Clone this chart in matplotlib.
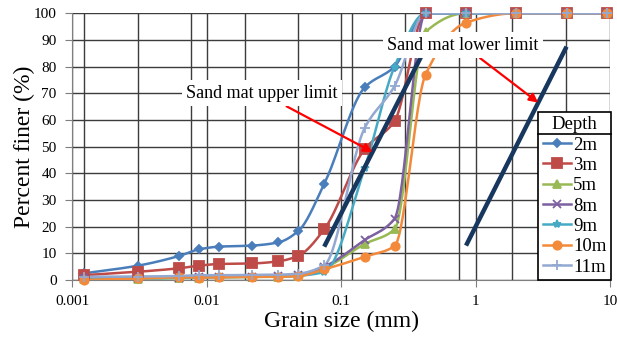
import numpy as np
import matplotlib
matplotlib.use("Agg")
import matplotlib.pyplot as plt
from matplotlib.lines import Line2D
from matplotlib.ticker import MultipleLocator, FixedLocator

plt.rcParams['font.family'] = ['Liberation Serif', 'DejaVu Serif']

# grain sizes (mm): hydrometer readings then sieves
sizes = [0.00123, 0.00311, 0.00625, 0.0088, 0.0124, 0.0217, 0.0342, 0.0482,
         0.075, 0.15, 0.25, 0.425, 0.85, 2.0, 4.75, 9.5]

d2m = [2.5, 5.4, 9.0, 11.5, 12.5, 12.9, 14.1, 18.4, 36.0, 72.2, 80.0, 100, 100, 100, 100, 100]
d3m = [1.8, 3.1, 4.4, 5.4, 6.0, 6.2, 7.0, 9.1, 19.0, 49.1, 59.6, 100, 100, 100, 100, 100]
d5m = [0.4, 0.5, 0.7, 0.9, 1.0, 1.1, 1.2, 1.5, 4.5, 13.5, 19.0, 93.0, 100, 100, 100, 100]
d8m = [0.6, 0.7, 0.9, 1.1, 1.2, 1.3, 1.4, 1.8, 5.0, 15.0, 23.0, 100, 100, 100, 100, 100]
d9m = [0.5, 0.6, 0.8, 1.0, 1.1, 1.2, 1.3, 1.6, 3.0, 42.0, 80.0, 100, 100, 100, 100, 100]
d10m = [0.0, 0.6, 1.0, 0.9, 1.0, 1.2, 1.2, 1.5, 4.0, 8.7, 12.7, 77.0, 96.5, 100, 100, 100]
d11m = [1.2, 1.3, 1.5, 1.8, 1.8, 1.9, 2.0, 2.4, 5.5, 57.0, 72.7, 100, 100, 100, 100, 100]

labels = ['2m', '3m', '5m', '8m', '9m', '10m', '11m']
series = [d2m, d3m, d5m, d8m, d9m, d10m, d11m]
colors = ['#4a7ebb', '#be4b48', '#98b954', '#7d60a0', '#46aac5', '#f38a3b', '#93a9d1']
markers = ['D', 's', '^', 'x', '*', 'o', '+']
msizes = [4, 6.5, 6, 6, 6, 6, 7]

# sand mat limit lines (size mm, percent finer)
upper_x = [0.075, 0.425]
upper_y = [12.5, 87.0]
lower_x = [0.85, 4.75]
lower_y = [12.9, 87.5]


def smooth(xs, ys, n=30):
    # smoothed line through the points (monotone cubic, in screen-like units)
    u = np.log10(xs) * 134.5
    v = np.array(ys, float) * 2.667
    h = np.diff(u)
    dl = np.diff(v) / h
    m = np.zeros_like(v)
    m[0], m[-1] = dl[0], dl[-1]
    for i in range(1, len(v) - 1):
        if dl[i - 1] * dl[i] > 0:
            w1 = 2 * h[i] + h[i - 1]
            w2 = h[i] + 2 * h[i - 1]
            m[i] = (w1 + w2) / (w1 / dl[i - 1] + w2 / dl[i])
    us, vs = [], []
    for i in range(len(v) - 1):
        t = np.linspace(0, 1, n)
        h00 = 2 * t ** 3 - 3 * t ** 2 + 1
        h10 = t ** 3 - 2 * t ** 2 + t
        h01 = -2 * t ** 3 + 3 * t ** 2
        h11 = t ** 3 - t ** 2
        us.append(u[i] + t * h[i])
        vs.append(h00 * v[i] + h10 * h[i] * m[i] + h01 * v[i + 1] + h11 * h[i] * m[i + 1])
    return 10 ** (np.concatenate(us) / 134.5), np.concatenate(vs) / 2.667


fig = plt.figure(figsize=(6.17, 3.41), dpi=100)
ax = fig.add_axes([0.1167, 0.1789, 0.8720, 0.7821])
ax.set_xscale('log')
ax.set_xlim(0.001, 10)
ax.set_ylim(0, 100)

# grid: light rows, dark major rows/decades, plus the offset overlay columns
ax.yaxis.set_major_locator(MultipleLocator(10))
ax.xaxis.set_major_locator(FixedLocator([0.001, 0.01, 0.1, 1, 10]))
ax.xaxis.set_minor_locator(FixedLocator([]))
ax.yaxis.set_minor_locator(FixedLocator([]))
ax.hlines(np.arange(0, 100, 5 / 3), 0, 1, transform=ax.get_xaxis_transform(),
          color='#d4d4d4', lw=1.0, zorder=0.3)
ax.grid(which='major', axis='both', color='#3c3c3c', lw=1.0)
ax.set_axisbelow(True)
gx = [0.0223 + 0.0995 * k for k in range(10)]
ax.vlines(gx, 0, 100, transform=ax.get_yaxis_transform(), color='#3c3c3c', lw=1.0, zorder=0.6)

for s in ['top', 'right']:
    ax.spines[s].set_visible(False)
for s in ['left', 'bottom']:
    ax.spines[s].set_color('#7f7f7f')
ax.tick_params(which='major', direction='out', length=5, color='#7f7f7f', labelsize=11, pad=6)
ax.tick_params(axis='x', pad=6)
ax.set_xticklabels(['0.001', '0.01', '0.1', '1', '10'])

for ys, c, mk, ms in zip(series, colors, markers, msizes):
    sx, sy = smooth(sizes, ys)
    ax.plot(sx, sy, color=c, lw=1.8, zorder=3, solid_capstyle='round')
    ax.plot(sizes, ys, ls='none', marker=mk, ms=ms, color=c, mec=c, mew=1.3, zorder=4, clip_on=False)

ax.plot(upper_x, upper_y, color='#17375e', lw=3.2, zorder=5, solid_capstyle='butt')
ax.plot(lower_x, lower_y, color='#17375e', lw=3.2, zorder=5, solid_capstyle='butt')


# arrows point onto the limit lines
def on_line(xs, ys, p):
    return 10 ** np.interp(p, ys, np.log10(xs))


tip_u = (on_line(upper_x, upper_y, 48.0), 48.0)
tip_l = (on_line(lower_x, lower_y, 66.5), 66.5)
box = dict(boxstyle='square,pad=0.25', fc='white', ec='none')
arr = dict(arrowstyle='-|>', color='#ff0000', lw=1.6, mutation_scale=13, shrinkA=0, shrinkB=0)
ax.annotate('Sand mat upper limit', xy=tip_u, xytext=(0.0259, 70.0), ha='center', va='center',
            fontsize=13, bbox=box, arrowprops=arr, zorder=6)
ax.annotate('Sand mat lower limit', xy=tip_l, xytext=(0.807, 88.1), ha='center', va='center',
            fontsize=13, bbox=box, arrowprops=arr, zorder=6)

ax.set_xlabel('Grain size (mm)', fontsize=17, labelpad=2)
ax.set_ylabel('Percent finer (%)', fontsize=17, labelpad=-1)

handles = [Line2D([], [], color=c, marker=mk, ms=ms, mew=1.3, lw=1.8)
           for c, mk, ms in zip(colors, markers, msizes)]
leg = ax.legend(handles, labels, title='Depth', loc='upper right',
                bbox_to_anchor=(611 / 617, (341 - 111.7) / 341), bbox_transform=fig.transFigure,
                fontsize=13.5, title_fontsize=13.5, frameon=True, fancybox=False, framealpha=1,
                edgecolor='black', borderaxespad=0, borderpad=0.25, labelspacing=0.17,
                handlelength=1.5, handletextpad=0.1)
leg.get_frame().set_linewidth(1.2)
leg.set_zorder(7)

fig.canvas.draw()
lb = leg.get_window_extent()
tb = leg.get_title().get_window_extent()
yline = tb.y0 - 1
fig.add_artist(Line2D([lb.x0, lb.x1], [yline, yline], transform=None, color='black', lw=1.2, zorder=8))

fig.savefig('out.png', dpi=100)
